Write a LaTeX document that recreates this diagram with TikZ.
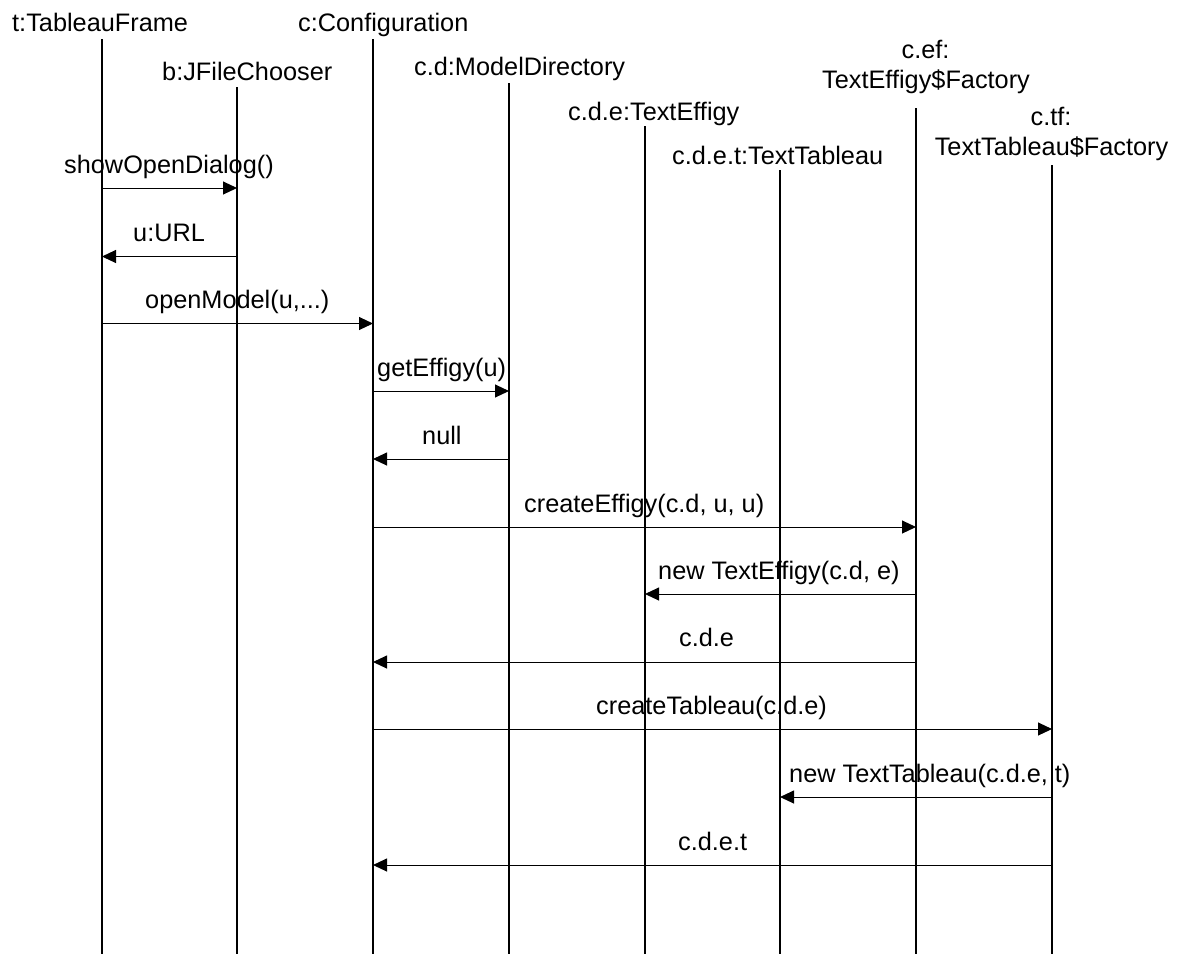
\documentclass[tikz,border=0pt]{standalone}
\usepackage{fontspec}
\setmainfont{Liberation Sans}
\usetikzlibrary{arrows.meta}
\begin{document}
\begin{tikzpicture}[x=1pt,y=-1pt,
  lifeline/.style={line width=1.6pt,black},
  msg/.style={line width=1pt,black,-{Triangle[length=14pt,width=13pt]}},
  lab/.style={inner sep=0pt,anchor=base west,font=\fontsize{25.3}{30}\selectfont},
  clab/.style={inner sep=0pt,anchor=base,font=\fontsize{25.3}{30}\selectfont}]
\useasboundingbox (0,0) rectangle (1177,954);
% lifeline heads
\coordinate (tT) at (102,39);
\coordinate (bT) at (237,87);
\coordinate (cT) at (373,39);
\coordinate (dT) at (509,83);
\coordinate (eT) at (645,126);
\coordinate (ctT) at (780,170);
\coordinate (efT) at (916,108);
\coordinate (tfT) at (1052,165);
\foreach \n in {t,b,c,d,e,ct,ef,tf} {
  \coordinate (\n B) at (\n T |- 0,954);
  \draw[lifeline] (\n T) -- (\n B);
}
% lifeline labels
\node[lab] (tL) at (12,31) {t:TableauFrame};
\node[lab] (bL) at (162,80) {b:JFileChooser};
\node[lab] (cL) at (298,31) {c:Configuration};
\node[lab] (dL) at (414,75) {c.d:ModelDirectory};
\node[lab] (eL) at (568,120) {c.d.e:TextEffigy};
\node[lab] (ctL) at (672,164) {c.d.e.t:TextTableau};
\node[clab] (efL1) at (925.5,58) {c.ef:};
\node[clab] (efL2) at (926,88) {TextEffigy\$Factory};
\node[clab] (tfL1) at (1051,125) {c.tf:};
\node[clab] (tfL2) at (1051.5,155) {TextTableau\$Factory};
% messages
\draw[msg] (tT |- 0,188) -- (bT |- 0,188);
\node[lab] (m1) at (64,173) {showOpenDialog()};
\draw[msg] (bT |- 0,256.5) -- (tT |- 0,256.5);
\node[lab] (m2) at (133,241.5) {u:URL};
\draw[msg] (tT |- 0,323.5) -- (cT |- 0,323.5);
\node[lab] (m3) at (145,308.5) {openModel(u,...)};
\draw[msg] (cT |- 0,391) -- (dT |- 0,391);
\node[lab] (m4) at (377,376.5) {getEffigy(u)};
\draw[msg] (dT |- 0,459) -- (cT |- 0,459);
\node[lab] (m5) at (422,444) {null};
\draw[msg] (cT |- 0,527) -- (efT |- 0,527);
\node[lab] (m6) at (524,512) {createEffigy(c.d, u, u)};
\draw[msg] (efT |- 0,594) -- (eT |- 0,594);
\node[lab] (m7) at (658,579) {new TextEffigy(c.d, e)};
\draw[msg] (efT |- 0,662) -- (cT |- 0,662);
\node[lab] (m8) at (679,646.5) {c.d.e};
\draw[msg] (cT |- 0,729) -- (tfT |- 0,729);
\node[lab] (m9) at (596,714.5) {createTableau(c.d.e)};
\draw[msg] (tfT |- 0,797) -- (ctT |- 0,797);
\node[lab] (m10) at (789,782) {new TextTableau(c.d.e, t)};
\draw[msg] (tfT |- 0,865) -- (cT |- 0,865);
\node[lab] (m11) at (678,850) {c.d.e.t};
\end{tikzpicture}
\end{document}
